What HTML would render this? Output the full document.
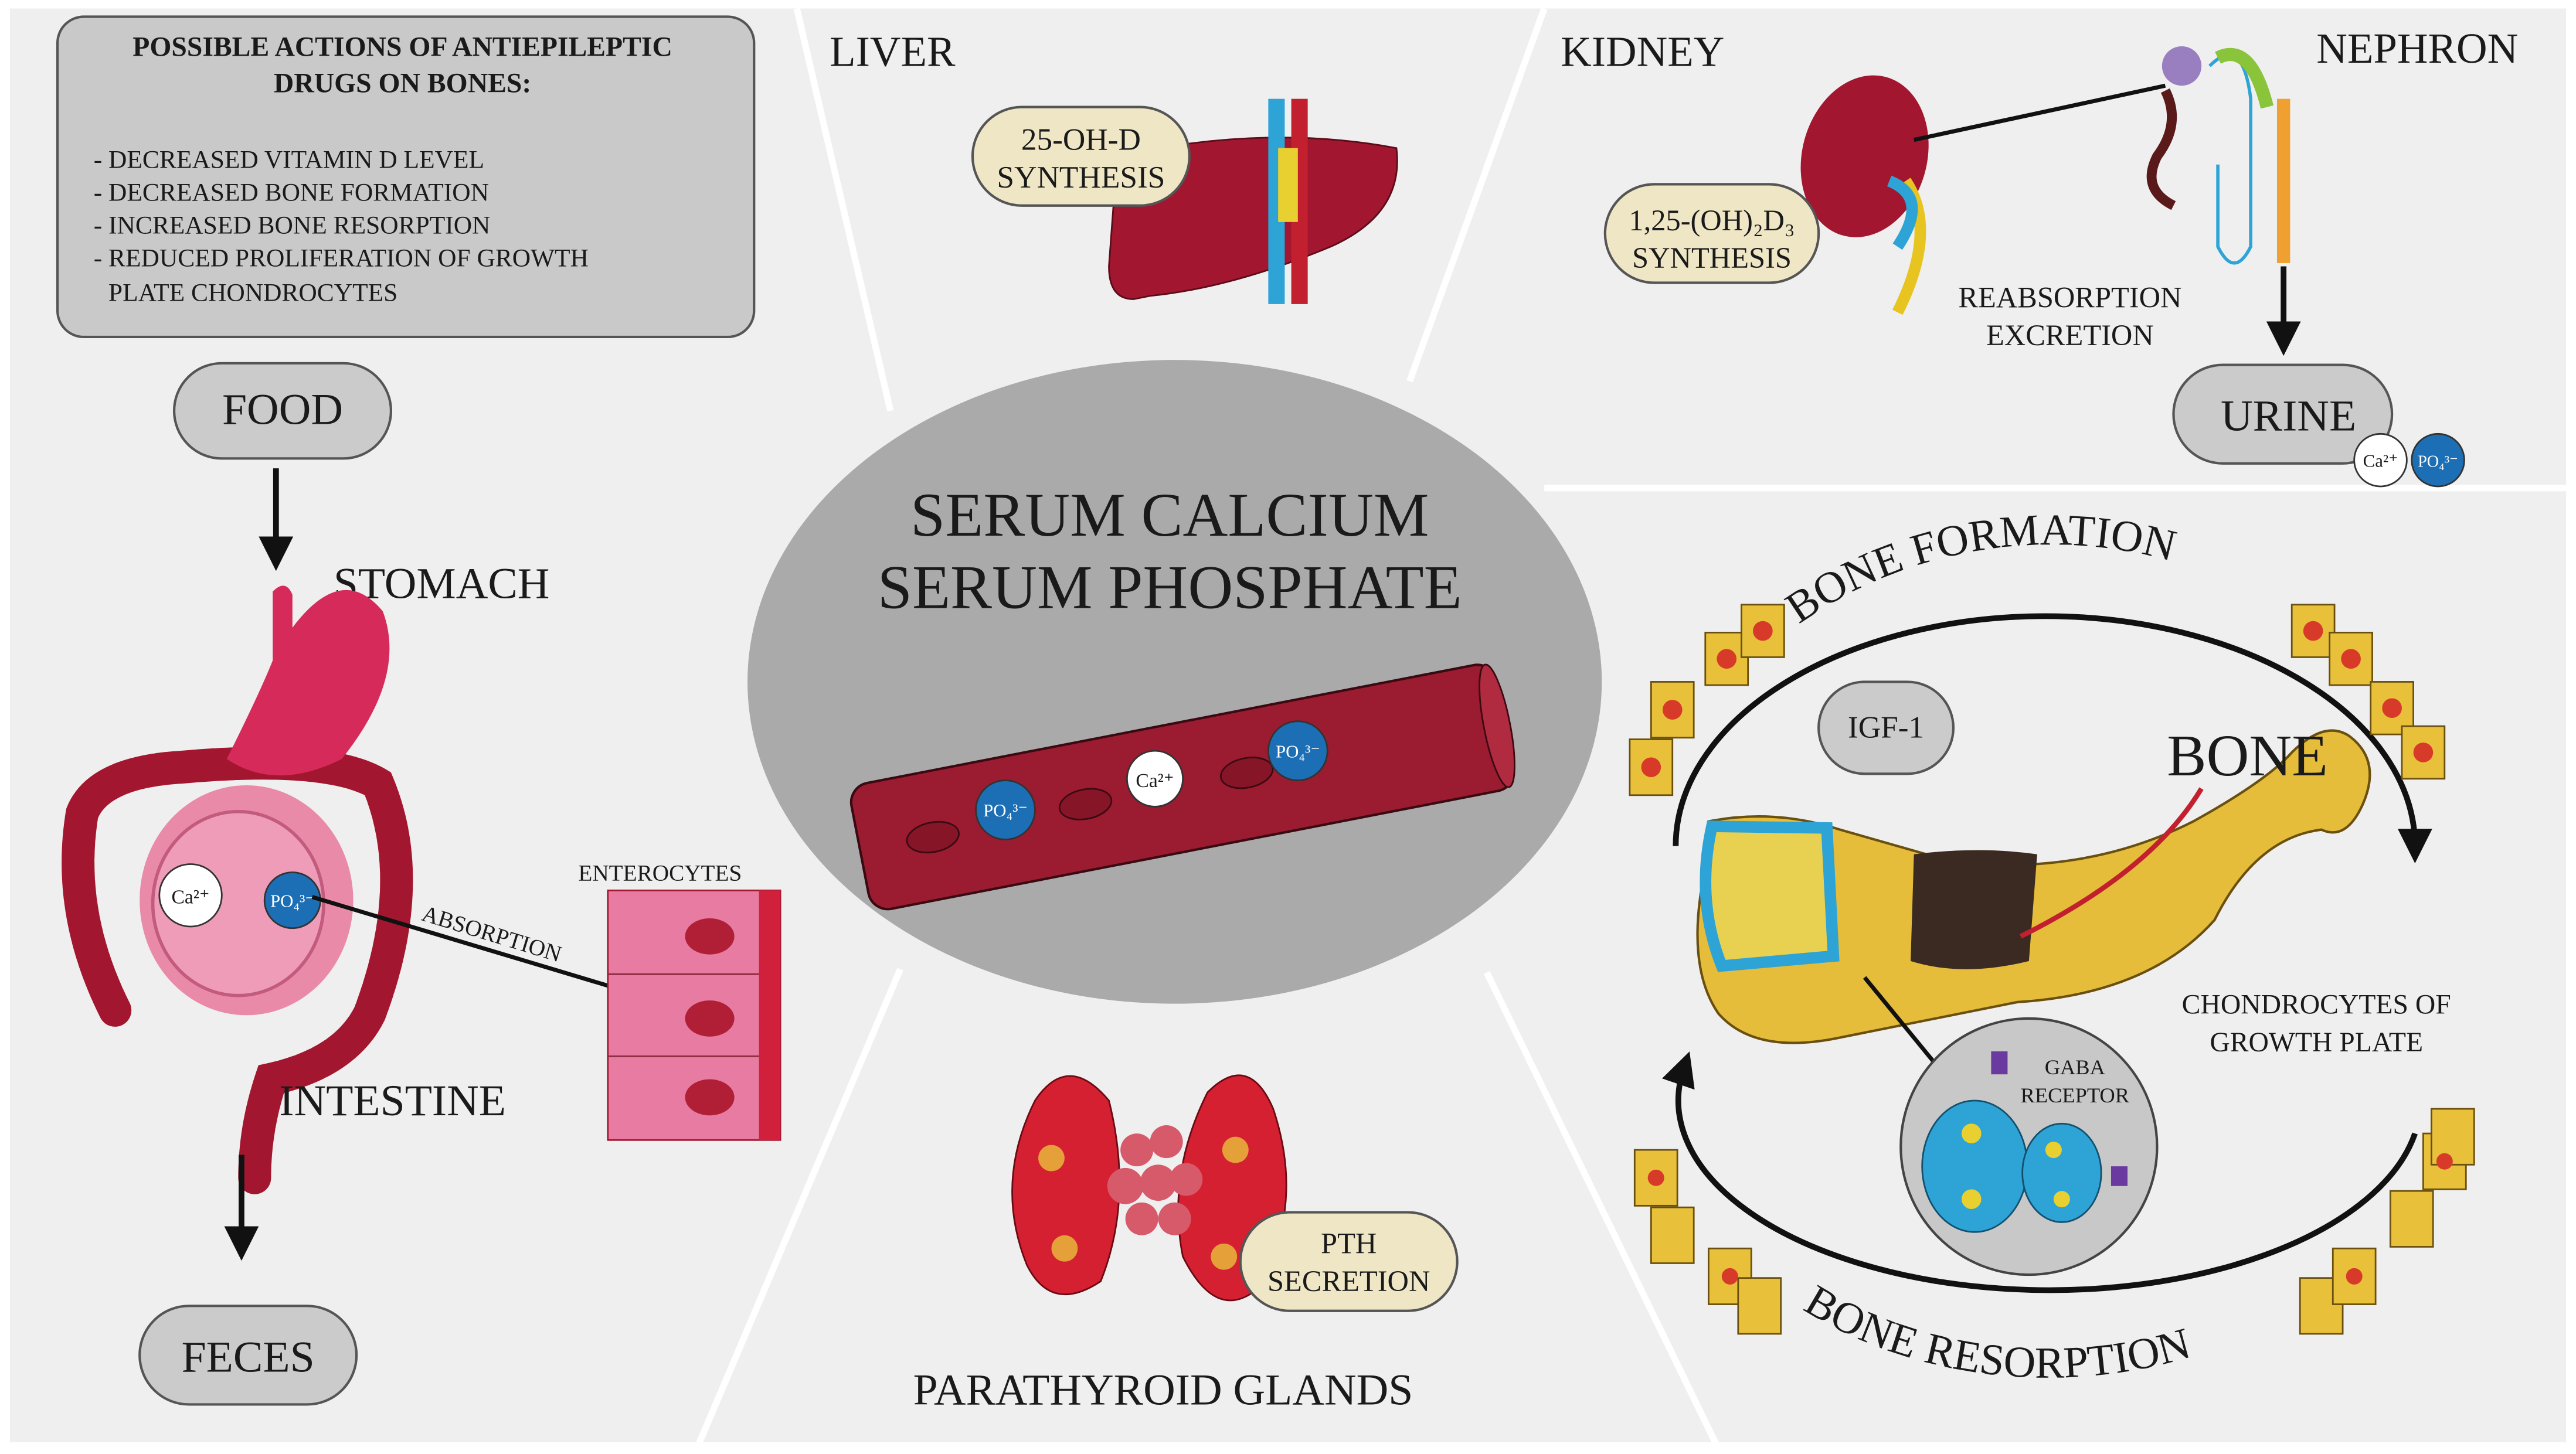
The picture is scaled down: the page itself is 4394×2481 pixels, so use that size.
<!DOCTYPE html>
<html><head><meta charset="utf-8"><style>
html,body{margin:0;padding:0;background:#fff;}
svg{display:block;}
text{font-family:"Liberation Serif",serif;fill:#1a1a1a;}
</style></head><body>
<svg width="4394" height="2481" viewBox="0 0 1568 885" xmlns="http://www.w3.org/2000/svg">
<defs>
<marker id="ah" markerWidth="6" markerHeight="6" refX="3" refY="3" orient="auto" markerUnits="strokeWidth"><path d="M0,0 L6,3 L0,6 z" fill="#111"/></marker>
</defs>
<rect x="0" y="0" width="1568" height="885" fill="#fff"/>
<rect x="6" y="5" width="1556" height="873" fill="#efefef"/>
<g stroke="#fff" stroke-width="4" fill="none">
<line x1="485" y1="5" x2="542" y2="250"/>
<line x1="940" y1="5" x2="858" y2="232"/>
<line x1="940" y1="297" x2="1562" y2="297"/>
<line x1="425" y1="880" x2="548" y2="590"/>
<line x1="1045" y1="880" x2="905" y2="592"/>
</g>
<rect x="35" y="10" width="424" height="195" rx="16" fill="#c9c9c9" stroke="#555" stroke-width="1.5"/>
<text x="245" y="34" font-size="17" font-weight="bold" text-anchor="middle">POSSIBLE ACTIONS OF ANTIEPILEPTIC</text>
<text x="245" y="56" font-size="17" font-weight="bold" text-anchor="middle">DRUGS ON BONES:</text>
<g font-size="15.5">
<text x="57" y="102">- DECREASED VITAMIN D LEVEL</text>
<text x="57" y="122">- DECREASED BONE FORMATION</text>
<text x="57" y="142">- INCREASED BONE RESORPTION</text>
<text x="57" y="162">- REDUCED PROLIFERATION OF GROWTH</text>
<text x="66" y="183">PLATE CHONDROCYTES</text>
</g>
<rect x="106" y="221" width="132" height="58" rx="29" fill="#cbcbcb" stroke="#555" stroke-width="1.5"/>
<text x="172" y="258" font-size="27" text-anchor="middle">FOOD</text>
<line x1="168" y1="285" x2="168" y2="337" stroke="#111" stroke-width="3.5" marker-end="url(#ah)"/>
<text x="203" y="364" font-size="27">STOMACH</text>
<path d="M70,615 q-30,-60 -20,-120 q10,-25 60,-28 q90,-8 120,10 q25,60 -5,140 q-15,30 -60,40 q-10,30 -10,60" fill="none" stroke="#a3162f" stroke-width="20" stroke-linecap="round" stroke-dasharray="10 2"/>
<path d="M166,360 q8,-8 12,2 l0,20 q30,-40 55,-10 q15,40 -25,90 q-40,20 -70,0 q20,-40 28,-60 z" fill="#d62a5a"/>
<ellipse cx="150" cy="548" rx="65" ry="70" fill="#e98aa8"/>
<ellipse cx="145" cy="550" rx="52" ry="56" fill="#ee9cb7" stroke="#c25b7e" stroke-width="2"/>
<circle cx="116" cy="545" r="19" fill="#fff" stroke="#333"/>
<text x="116" y="550" font-size="12" text-anchor="middle">Ca²⁺</text>
<circle cx="178" cy="548" r="17" fill="#1d6fb5" stroke="#333"/>
<text x="178" y="552" font-size="11" text-anchor="middle" style="fill:#fff">PO₄³⁻</text>
<line x1="190" y1="546" x2="370" y2="600" stroke="#111" stroke-width="2.5"/>
<text x="256" y="560" font-size="14" transform="rotate(17 256 560)">ABSORPTION</text>
<text x="352" y="536" font-size="14">ENTEROCYTES</text>
<rect x="370" y="542" width="105" height="152" fill="#e77ba2" stroke="#a3162f"/>
<rect x="462" y="542" width="13" height="152" fill="#d0203c"/>
<g fill="#b01f36"><ellipse cx="432" cy="570" rx="15" ry="11"/><ellipse cx="432" cy="620" rx="15" ry="11"/><ellipse cx="432" cy="668" rx="15" ry="11"/></g>
<g stroke="#8b2a40"><line x1="370" y1="593" x2="462" y2="593"/><line x1="370" y1="643" x2="462" y2="643"/></g>
<text x="170" y="679" font-size="27">INTESTINE</text>
<line x1="147" y1="703" x2="147" y2="757" stroke="#111" stroke-width="3.5" marker-end="url(#ah)"/>
<rect x="85" y="795" width="132" height="60" rx="30" fill="#cbcbcb" stroke="#555" stroke-width="1.5"/>
<text x="151" y="835" font-size="27" text-anchor="middle">FECES</text>
<text x="505" y="40" font-size="26">LIVER</text>
<path d="M680,95 q90,-20 170,-5 q5,40 -40,60 q-60,25 -110,30 l-10,2 q-15,0 -15,-20 z" fill="#a3162f" stroke="#5a0c1a"/>
<rect x="772" y="60" width="10" height="125" fill="#2ea3d6"/><rect x="786" y="60" width="10" height="125" fill="#c3202f"/>
<rect x="778" y="90" width="12" height="45" fill="#e8d030"/>
<rect x="592" y="65" width="132" height="60" rx="30" fill="#efe6c6" stroke="#555" stroke-width="1.5"/>
<text x="658" y="91" font-size="19" text-anchor="middle">25-OH-D</text>
<text x="658" y="114" font-size="19" text-anchor="middle">SYNTHESIS</text>
<text x="950" y="40" font-size="26">KIDNEY</text>
<text x="1410" y="38" font-size="26">NEPHRON</text>
<ellipse cx="1135" cy="95" rx="38" ry="50" fill="#a3162f" transform="rotate(15 1135 95)"/>
<path d="M1160,110 q20,30 -5,80" stroke="#e8c420" stroke-width="7" fill="none"/>
<path d="M1150,110 q25,10 5,40" stroke="#2ea3d6" stroke-width="7" fill="none"/>
<line x1="1165" y1="85" x2="1318" y2="52" stroke="#111" stroke-width="2.5"/>
<circle cx="1328" cy="40" r="12" fill="#9a7fc0"/>
<path d="M1318,55 q10,20 -5,40 q-10,20 10,30" stroke="#5a1a1a" stroke-width="6" fill="none"/>
<path d="M1345,40 q20,-20 25,20 l0,90 q-10,20 -20,0 l0,-50" stroke="#2ea3d6" stroke-width="2" fill="none"/>
<path d="M1350,35 q20,-10 30,30" stroke="#8ac43a" stroke-width="8" fill="none"/>
<path d="M1390,60 l0,100" stroke="#f0a030" stroke-width="8"/>
<rect x="977" y="112" width="130" height="60" rx="30" fill="#efe6c6" stroke="#555" stroke-width="1.5"/>
<text x="1042" y="140" font-size="18" text-anchor="middle">1,25-(OH)₂D₃</text>
<text x="1042" y="163" font-size="18" text-anchor="middle">SYNTHESIS</text>
<text x="1260" y="187" font-size="18" text-anchor="middle">REABSORPTION</text>
<text x="1260" y="210" font-size="18" text-anchor="middle">EXCRETION</text>
<line x1="1390" y1="162" x2="1390" y2="206" stroke="#111" stroke-width="3.5" marker-end="url(#ah)"/>
<rect x="1323" y="222" width="133" height="60" rx="30" fill="#cbcbcb" stroke="#555" stroke-width="1.5"/>
<text x="1393" y="262" font-size="27" text-anchor="middle">URINE</text>
<circle cx="1449" cy="280" r="16" fill="#fff" stroke="#333"/><text x="1449" y="284" font-size="11" text-anchor="middle">Ca²⁺</text>
<circle cx="1484" cy="280" r="16" fill="#1d6fb5" stroke="#333"/><text x="1484" y="284" font-size="10" text-anchor="middle" style="fill:#fff">PO₄³⁻</text>
<ellipse cx="715" cy="415" rx="260" ry="196" fill="#aaaaaa"/>
<text x="712" y="326" font-size="38" text-anchor="middle">SERUM CALCIUM</text>
<text x="712" y="370" font-size="38" text-anchor="middle">SERUM PHOSPHATE</text>
<g transform="rotate(-11 720 480)">
<rect x="520" y="440" width="400" height="78" rx="12" fill="#9b1b30" stroke="#3a0a12" stroke-width="1.5"/>
<ellipse cx="915" cy="479" rx="8" ry="38" fill="#b02a40" stroke="#3a0a12"/>
<g fill="#861527" stroke="#3a0a12"><ellipse cx="565" cy="480" rx="16" ry="9"/><ellipse cx="660" cy="478" rx="16" ry="9"/><ellipse cx="760" cy="478" rx="16" ry="9"/></g>
</g>
<circle cx="703" cy="474" r="17" fill="#fff" stroke="#333"/><text x="703" y="479" font-size="12" text-anchor="middle">Ca²⁺</text>
<circle cx="612" cy="493" r="18" fill="#1d6fb5" stroke="#333"/><text x="612" y="497" font-size="11" text-anchor="middle" style="fill:#fff">PO₄³⁻</text>
<circle cx="790" cy="457" r="18" fill="#1d6fb5" stroke="#333"/><text x="790" y="461" font-size="11" text-anchor="middle" style="fill:#fff">PO₄³⁻</text>
<g fill="#d42030" stroke="#6a0a14">
<path d="M630,670 q20,-30 45,0 q15,60 -5,110 q-30,20 -45,-10 q-20,-50 5,-100 z"/>
<path d="M735,665 q25,-25 40,10 q20,60 -10,110 q-25,20 -45,-20 q-10,-50 15,-100 z"/>
</g>
<g fill="#d65a6a"><circle cx="692" cy="700" r="10"/><circle cx="710" cy="695" r="10"/><circle cx="685" cy="722" r="11"/><circle cx="705" cy="720" r="11"/><circle cx="722" cy="718" r="10"/><circle cx="695" cy="742" r="10"/><circle cx="715" cy="742" r="10"/></g>
<g fill="#e5a03a"><circle cx="640" cy="705" r="8"/><circle cx="648" cy="760" r="8"/><circle cx="752" cy="700" r="8"/><circle cx="745" cy="765" r="8"/></g>
<rect x="755" y="738" width="132" height="60" rx="30" fill="#efe6c6" stroke="#555" stroke-width="1.5"/>
<text x="821" y="763" font-size="18" text-anchor="middle">PTH</text>
<text x="821" y="786" font-size="18" text-anchor="middle">SECRETION</text>
<text x="708" y="855" font-size="27" text-anchor="middle">PARATHYROID GLANDS</text>
<path id="arcTop" d="M1095,380 A250,230 0 0 1 1395,375" fill="none"/>
<text font-size="27"><textPath href="#arcTop">BONE FORMATION</textPath></text>
<path d="M1020,515 A225,140 0 0 1 1470,515" fill="none" stroke="#111" stroke-width="3.5" marker-end="url(#ah)"/>
<path d="M1470,690 A225,115 0 0 1 1025,650" fill="none" stroke="#111" stroke-width="3.5" marker-end="url(#ah)"/>
<path id="arcBot" d="M1097,797 A240,190 0 0 0 1397,797" fill="none"/>
<text font-size="27"><textPath href="#arcBot">BONE RESORPTION</textPath></text>
<g fill="#e8c03a" stroke="#6a5010">
<rect x="992" y="450" width="26" height="34"/><rect x="1005" y="415" width="26" height="34"/><rect x="1038" y="385" width="26" height="32"/><rect x="1060" y="368" width="26" height="32"/>
<rect x="1395" y="368" width="26" height="32"/><rect x="1418" y="385" width="26" height="32"/><rect x="1443" y="415" width="26" height="32"/><rect x="1462" y="442" width="26" height="32"/>
<rect x="995" y="700" width="26" height="34"/><rect x="1005" y="735" width="26" height="34"/><rect x="1040" y="760" width="26" height="34"/><rect x="1058" y="778" width="26" height="34"/>
<rect x="1400" y="778" width="26" height="34"/><rect x="1420" y="760" width="26" height="34"/><rect x="1455" y="725" width="26" height="34"/><rect x="1475" y="690" width="26" height="34"/><rect x="1480" y="675" width="26" height="34"/>
</g>
<g fill="#d83a2a"><circle cx="1005" cy="467" r="6"/><circle cx="1018" cy="432" r="6"/><circle cx="1051" cy="401" r="6"/><circle cx="1073" cy="384" r="6"/><circle cx="1408" cy="384" r="6"/><circle cx="1431" cy="401" r="6"/><circle cx="1456" cy="431" r="6"/><circle cx="1475" cy="458" r="6"/>
<circle cx="1008" cy="717" r="5"/><circle cx="1053" cy="777" r="5"/><circle cx="1433" cy="777" r="5"/><circle cx="1488" cy="707" r="5"/></g>
<rect x="1107" y="415" width="82" height="56" rx="28" fill="#cbcbcb" stroke="#555" stroke-width="1.5"/>
<text x="1148" y="449" font-size="19" text-anchor="middle">IGF-1</text>
<path d="M1040,500 q40,-8 80,5 l70,20 q80,8 145,-25 q45,-25 60,-42 q20,-20 35,-10 q20,15 8,42 q-10,22 -25,15 q-40,5 -65,55 q-40,45 -120,50 l-110,22 q-50,10 -72,-15 q-22,-32 -6,-97 z" fill="#e5bd3a" stroke="#6a5010" stroke-width="1.5"/>
<path d="M1042,503 q-10,45 6,85 l68,-6 l-4,-78 z" fill="#e8d050" stroke="#2ea3d6" stroke-width="7"/>
<path d="M1165,520 q40,-5 75,0 l-5,65 q-40,10 -72,0 z" fill="#3a2a22"/>
<path d="M1230,570 q80,-40 110,-90" stroke="#c3202f" stroke-width="3" fill="none"/>
<text x="1368" y="472" font-size="36" text-anchor="middle">BONE</text>
<line x1="1135" y1="595" x2="1180" y2="650" stroke="#111" stroke-width="2.5"/>
<text x="1410" y="617" font-size="17" text-anchor="middle">CHONDROCYTES OF</text>
<text x="1410" y="640" font-size="17" text-anchor="middle">GROWTH PLATE</text>
<circle cx="1235" cy="698" r="78" fill="#c8c8c8" stroke="#444" stroke-width="1.5"/>
<text x="1263" y="654" font-size="13" text-anchor="middle">GABA</text>
<text x="1263" y="671" font-size="13" text-anchor="middle">RECEPTOR</text>
<ellipse cx="1202" cy="710" rx="32" ry="40" fill="#2ea3d6" stroke="#14506e"/>
<ellipse cx="1255" cy="714" rx="24" ry="30" fill="#2ea3d6" stroke="#14506e"/>
<g fill="#e8d030"><circle cx="1200" cy="690" r="6"/><circle cx="1200" cy="730" r="6"/><circle cx="1250" cy="700" r="5"/><circle cx="1255" cy="730" r="5"/></g>
<rect x="1212" y="640" width="10" height="14" fill="#6a3aa0"/><rect x="1285" y="710" width="10" height="12" fill="#6a3aa0"/>
</svg>
</body></html>
